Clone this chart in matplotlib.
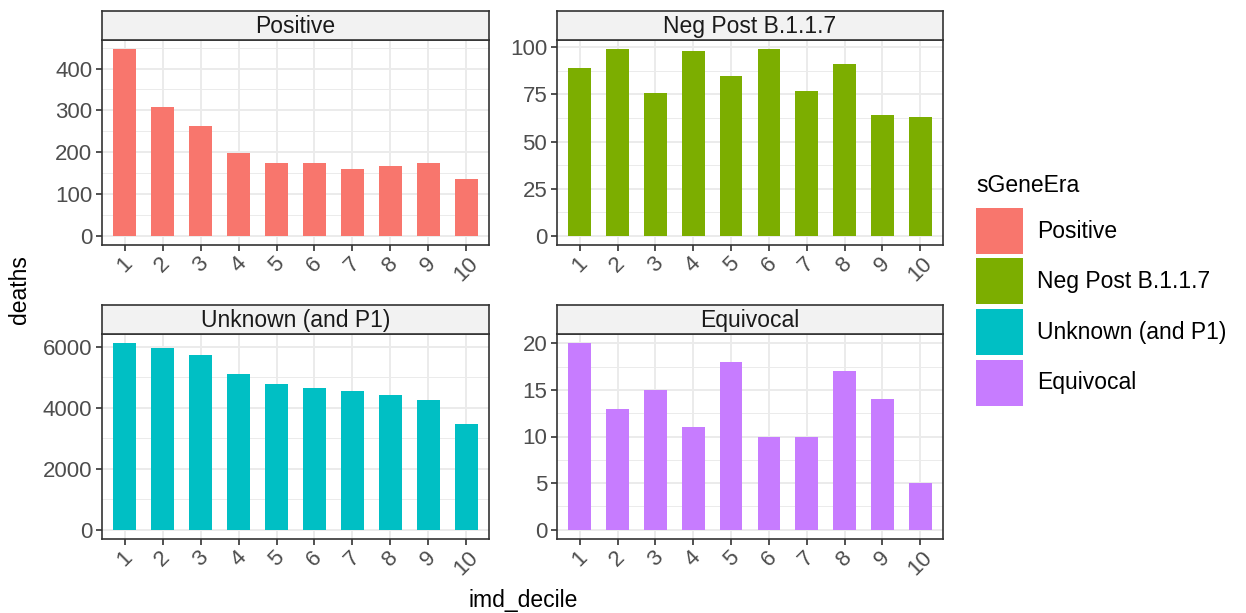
import numpy as np
import matplotlib.pyplot as plt
from matplotlib.patches import Rectangle

plt.rcParams['font.family'] = ['Liberation Sans', 'DejaVu Sans']

deciles = ["1", "2", "3", "4", "5", "6", "7", "8", "9", "10"]
groups = ["Positive", "Neg Post B.1.1.7", "Unknown (and P1)", "Equivocal"]
colors = ["#F8766D", "#7CAE00", "#00BFC4", "#C77CFF"]

positive = [446, 308, 263, 198, 175, 175, 160, 166, 175, 136]
neg_post = [89, 99, 76, 98, 85, 99, 77, 91, 64, 63]
unknown = [6120, 5980, 5730, 5115, 4775, 4655, 4570, 4425, 4270, 3470]
equivocal = [20, 13, 15, 11, 18, 10, 10, 17, 14, 5]

series = [positive, neg_post, unknown, equivocal]
yticks = [[0, 100, 200, 300, 400], [0, 25, 50, 75, 100],
          [0, 2000, 4000, 6000], [0, 5, 10, 15, 20]]

W, H = 1246, 613
fig = plt.figure(figsize=(W / 100, H / 100), dpi=100)

# panel boxes in pixels: (left, top_strip, top_plot, bottom, right)
boxes = [(102, 11, 40, 245, 489), (557, 11, 40, 245, 943),
         (102, 305, 334, 539, 489), (557, 305, 334, 539, 943)]

def px(l, t, r, b):
    return [l / W, 1 - b / H, (r - l) / W, (b - t) / H]

x = np.arange(1, 11)
for i, (l, ts, tp, b, r) in enumerate(boxes):
    ax = fig.add_axes(px(l, tp, r, b))
    vals = series[i]
    ax.bar(x, vals, width=0.6, color=colors[i], zorder=3)
    mx = max(vals)
    ax.set_ylim(-0.05 * mx, 1.05 * mx)
    ax.set_xlim(0.4, 10.6)
    ax.set_xticks(x)
    ax.set_xticklabels(deciles, rotation=45, ha='center', va='top')
    ax.set_yticks(yticks[i])
    step = yticks[i][1] - yticks[i][0]
    minors = np.arange(yticks[i][0] + step / 2, 1.05 * mx, step)
    ax.set_yticks(minors, minor=True)
    ax.grid(True, which='major', color='#EBEBEB', linewidth=1.4, zorder=0)
    ax.grid(True, which='minor', axis='y', color='#EBEBEB', linewidth=0.7, zorder=0)
    ax.tick_params(which='minor', length=0)
    ax.tick_params(which='major', labelsize=16, labelcolor='#4D4D4D', color='#333333',
                   length=4, width=1.2)
    ax.tick_params(axis='x', pad=2)
    ax.tick_params(axis='y', pad=3)
    for s in ax.spines.values():
        s.set_color('#333333')
        s.set_linewidth(1.2)
    # facet strip
    sax = fig.add_axes(px(l, ts, r, tp))
    sax.set_xticks([])
    sax.set_yticks([])
    sax.set_facecolor('#F2F2F2')
    for s in sax.spines.values():
        s.set_color('#333333')
        s.set_linewidth(1.2)
    sax.text(0.5, 0.47, groups[i], ha='center', va='center', fontsize=16.5,
             color='#1A1A1A', transform=sax.transAxes)

fig.text(20 / W, 1 - 290 / H, "deaths", rotation=90, ha='center', va='center',
         fontsize=16.5)
fig.text(523 / W, 1 - 600 / H, "imd_decile", ha='center', va='center', fontsize=16.5)

# legend
fig.text(976 / W, 1 - 186 / H, "sGeneEra", ha='left', va='center', fontsize=16.5)
key_tops = [208, 258, 309, 360]
for kt, c, g in zip(key_tops, colors, groups):
    fig.patches.append(Rectangle((976 / W, 1 - (kt + 46) / H), 47 / W, 46 / H,
                                 transform=fig.transFigure, facecolor=c,
                                 edgecolor='none'))
    fig.text(1037 / W, 1 - (kt + 23) / H, g, ha='left', va='center', fontsize=16.5)

fig.savefig("out.png", dpi=100)
